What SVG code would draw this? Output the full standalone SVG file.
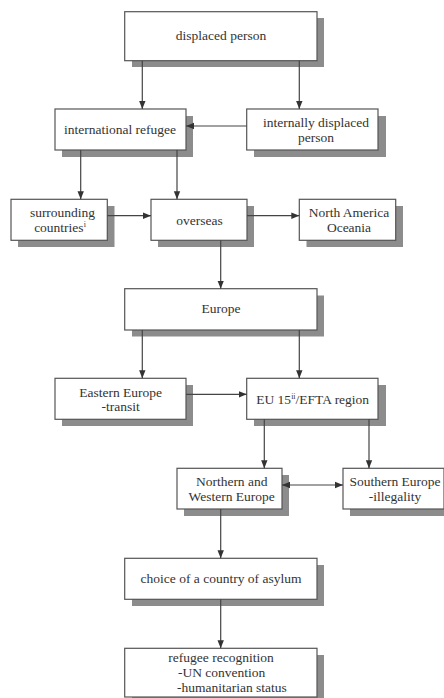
<svg xmlns="http://www.w3.org/2000/svg" width="444" height="698" viewBox="0 0 444 698">
<defs>
<marker id="ah" viewBox="0 0 8 8" refX="8" refY="4" markerWidth="8" markerHeight="8" markerUnits="userSpaceOnUse" orient="auto-start-reverse">
<path d="M0,0.8 L8,4 L0,7.2 Z" fill="#333"/>
</marker>
<style>
.box{fill:#fff;stroke:#555;stroke-width:1.2}
.sh{fill:#8c8c8c}
.t{font-size:13.5px;fill:#333;text-anchor:middle}
.tl{font-size:13.5px;fill:#333}
.c{stroke:#444;stroke-width:1.2;fill:none;marker-end:url(#ah)}
</style>
</defs>
<rect width="444" height="698" fill="#fff"/>
<g font-family="Liberation Serif, Times New Roman, serif">
<g id="n1"><rect class="sh" x="132" y="18" width="192" height="49"/><rect class="box" x="124.7" y="11.7" width="192.3" height="49"/><text class="t" x="221" y="39.5">displaced person</text></g>
<g id="n2"><rect class="sh" x="62" y="116" width="131" height="41"/><rect class="box" x="55" y="109" width="131" height="41"/><text class="t" x="120" y="134">international refugee</text></g>
<g id="n3"><rect class="sh" x="254" y="116" width="132" height="41"/><rect class="box" x="246.7" y="109" width="131.3" height="41"/><text class="t" x="316" y="127">internally displaced</text><text class="t" x="316" y="142">person</text></g>
<g id="n4"><rect class="sh" x="18" y="206" width="96.5" height="41"/><rect class="box" x="11" y="199.3" width="96.3" height="41"/><text class="t" x="62.5" y="217">surrounding</text><text class="t" x="60" y="232">countries<tspan font-size="8" dy="-5">i</tspan></text></g>
<g id="n5"><rect class="sh" x="158" y="206" width="96" height="41"/><rect class="box" x="151" y="199.3" width="96" height="41"/><text class="t" x="199.5" y="224.5">overseas</text></g>
<g id="n6"><rect class="sh" x="306.5" y="206" width="96.5" height="41"/><rect class="box" x="299.3" y="199.3" width="96.4" height="41"/><text class="t" x="349" y="217">North America</text><text class="t" x="349" y="232">Oceania</text></g>
<g id="n7"><rect class="sh" x="132" y="295.5" width="192" height="41"/><rect class="box" x="124.7" y="288.7" width="192.3" height="41.3"/><text class="t" x="221" y="313">Europe</text></g>
<g id="n8"><rect class="sh" x="62" y="385" width="131" height="41"/><rect class="box" x="55" y="378.3" width="131" height="41"/><text class="t" x="120.7" y="396.5">Eastern Europe</text><text class="t" x="120.7" y="410.5">-transit</text></g>
<g id="n9"><rect class="sh" x="254" y="385" width="132" height="41"/><rect class="box" x="246.7" y="378.3" width="131.3" height="41"/><text class="t" x="312.7" y="403.5">EU 15<tspan font-size="8" dy="-5">ii</tspan><tspan dy="5">/EFTA region</tspan></text></g>
<g id="n10"><rect class="sh" x="184" y="475" width="105" height="41"/><rect class="box" x="177" y="468.3" width="105" height="40.7"/><text class="t" x="231.7" y="486">Northern and</text><text class="t" x="231.7" y="501">Western Europe</text></g>
<g id="n11"><rect class="sh" x="350" y="475" width="101" height="41"/><rect class="box" x="343" y="468.3" width="101" height="40.7"/><text class="t" x="395" y="486">Southern Europe</text><text class="t" x="395" y="501">-illegality</text></g>
<g id="n12"><rect class="sh" x="132" y="565" width="192" height="41"/><rect class="box" x="124.7" y="558.3" width="192.3" height="41"/><text class="t" x="221" y="583">choice of a country of asylum</text></g>
<g id="n13"><rect class="sh" x="132" y="655" width="192" height="50"/><rect class="box" x="124.7" y="648.3" width="192.3" height="48.7"/><text class="t" x="221" y="661.5">refugee recognition</text><text class="tl" x="178" y="677">-UN convention</text><text class="tl" x="177" y="692">-humanitarian status</text></g>
</g>
<g id="connectors">
<line class="c" x1="142.3" y1="60.7" x2="142.3" y2="109"/>
<line class="c" x1="299.3" y1="60.7" x2="299.3" y2="109"/>
<line class="c" x1="246.7" y1="126" x2="186" y2="126"/>
<line class="c" x1="80.7" y1="150" x2="80.7" y2="199.3"/>
<line class="c" x1="177" y1="150" x2="177" y2="199.3"/>
<line class="c" x1="107.3" y1="215.7" x2="151" y2="215.7"/>
<line class="c" x1="247" y1="215.7" x2="299.3" y2="215.7"/>
<line class="c" x1="220.7" y1="240.3" x2="220.7" y2="288.7"/>
<line class="c" x1="142.3" y1="330" x2="142.3" y2="378.3"/>
<line class="c" x1="299.3" y1="330" x2="299.3" y2="378.3"/>
<line class="c" x1="186" y1="394.3" x2="246.7" y2="394.3"/>
<line class="c" x1="264.3" y1="419.3" x2="264.3" y2="468.3"/>
<line class="c" x1="369" y1="419.3" x2="369" y2="468.3"/>
<line class="c" x1="282" y1="485" x2="343" y2="485" marker-start="url(#ah)"/>
<line class="c" x1="220.7" y1="509" x2="220.7" y2="558.3"/>
<line class="c" x1="220.7" y1="599.3" x2="220.7" y2="648.3"/>
</g>
</svg>
